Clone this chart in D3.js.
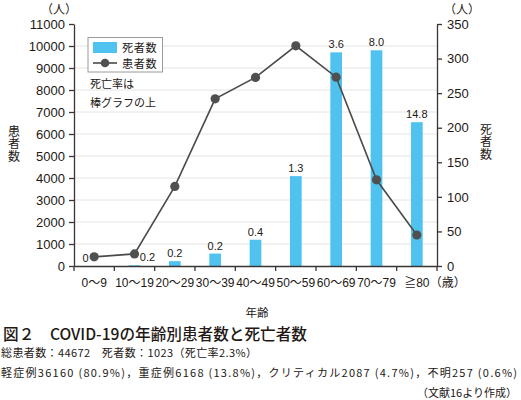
<!DOCTYPE html>
<html><head><meta charset="utf-8">
<script src="https://cdn.jsdelivr.net/npm/d3@7"></script>
<style>
html,body{margin:0;padding:0;background:#fff;}
svg{display:block;}
text{font-family:"Liberation Sans","Noto Sans CJK JP",sans-serif;fill:#231815;}
.jp{font-family:"Noto Sans CJK JP","Liberation Sans",sans-serif;}
</style></head>
<body>
<script>
const categories = ["0～9","10～19","20～29","30～39","40～49","50～59","60～69","70～79","≧80"];
const patients = [416,549,3619,7600,8571,10008,8583,3918,1408];
const deaths = [0,1,7,18,38,130,309,312,208];
const rates = ["0","0.2","0.2","0.2","0.4","1.3","3.6","8.0","14.8"];
const leftTicks = d3.range(0,11001,1000);
const rightTicks = d3.range(0,351,50);

const W=521,H=400;
const svg=d3.select("body").append("svg").attr("width",W).attr("height",H);
const L=74,R=437,T=24,B=266;
const axisCol="#3b3434";

const x=d3.scaleBand().domain(categories).range([L,R]).padding(0);
const yL=d3.scaleLinear().domain([0,11000]).range([B,T]);
const yR=d3.scaleLinear().domain([0,350]).range([B,T]);

// gridlines
svg.append("g").selectAll("line").data(leftTicks.filter(d=>d>0&&d<11000)).join("line")
  .attr("x1",L).attr("x2",R).attr("y1",d=>yL(d)).attr("y2",d=>yL(d))
  .attr("stroke","#e4e4e4").attr("stroke-width",1);

// bars
const bw=x.bandwidth()*0.29;
svg.append("g").selectAll("rect").data(deaths).join("rect")
  .attr("x",(d,i)=>x(categories[i])+x.bandwidth()/2-bw/2)
  .attr("y",d=>yR(d)).attr("width",bw).attr("height",d=>B-yR(d))
  .attr("fill","#4fc2f0");

// bar labels
const labelShift=[-8.5,13,0,0,0,0,0,0,0];
svg.append("g").selectAll("text").data(rates).join("text")
  .attr("x",(d,i)=>x(categories[i])+x.bandwidth()/2+labelShift[i])
  .attr("y",(d,i)=>Math.min(yR(deaths[i])-4,262))
  .attr("text-anchor","middle").attr("font-size",11).attr("fill","#333")
  .text(d=>d);

// line
const line=d3.line().x((d,i)=>x(categories[i])+x.bandwidth()/2).y(d=>yL(d));
svg.append("path").datum(patients).attr("d",line)
  .attr("fill","none").attr("stroke","#4a4a4a").attr("stroke-width",1.6);
svg.append("g").selectAll("circle").data(patients).join("circle")
  .attr("cx",(d,i)=>x(categories[i])+x.bandwidth()/2).attr("cy",d=>yL(d))
  .attr("r",4.6).attr("fill","#505050");

// axes
function styleAxis(g){
  g.selectAll("path,line").attr("stroke",axisCol).attr("stroke-width",1.3);
  g.selectAll("text").attr("font-size",13).attr("fill","#231815")
   .attr("font-family","'Liberation Sans',sans-serif");
}
svg.append("g").attr("transform",`translate(${L},0)`)
  .call(d3.axisLeft(yL).tickValues(leftTicks).tickSize(5).tickSizeOuter(0).tickPadding(4).tickFormat(d3.format("d")))
  .call(styleAxis);
svg.append("g").attr("transform",`translate(${R},0)`)
  .call(d3.axisRight(yR).tickValues(rightTicks).tickSize(5).tickSizeOuter(0).tickPadding(5).tickFormat(d3.format("d")))
  .call(styleAxis);

// x axis
const gx=svg.append("g").attr("transform",`translate(0,${B})`)
  .call(d3.axisBottom(x).tickSize(0).tickSizeOuter(0).tickPadding(12))
  .call(styleAxis);
gx.selectAll("text").attr("font-size",12).attr("font-family","'Liberation Sans','Noto Sans CJK JP',sans-serif");
const bounds=categories.map(c=>x(c)).concat([R]);
svg.append("g").selectAll("line").data(bounds).join("line")
  .attr("x1",d=>d).attr("x2",d=>d).attr("y1",B).attr("y2",B+5)
  .attr("stroke",axisCol).attr("stroke-width",1.3);

svg.append("text").attr("class","jp").attr("x",x(categories[8])+x.bandwidth()/2+13).attr("y",287)
  .attr("font-size",12).text("（歳）");
svg.append("text").attr("class","jp").attr("x",257).attr("y",317).attr("text-anchor","middle")
  .attr("font-size",11.5).text("年齢");

// unit labels
svg.append("text").attr("class","jp").attr("x",59).attr("y",14).attr("text-anchor","middle").attr("font-size",12).text("（人）");
svg.append("text").attr("class","jp").attr("x",462).attr("y",14).attr("text-anchor","middle").attr("font-size",12).text("（人）");

// vertical axis titles
function vtitle(str,cx,top){
  svg.append("text").attr("class","jp").attr("font-size",12)
    .attr("x",cx).attr("y",top)
    .style("writing-mode","vertical-rl").style("text-orientation","upright")
    .attr("letter-spacing",0.8)
    .text(str);
}
vtitle("患者数",14,125);
vtitle("死者数",486,123);

// legend
const lg=svg.append("g");
lg.append("rect").attr("x",88).attr("y",37.5).attr("width",74.5).attr("height",34.5)
  .attr("fill","#fff").attr("stroke","#9a9a9a").attr("stroke-width",1);
lg.append("rect").attr("x",93).attr("y",42).attr("width",24).attr("height",11).attr("fill","#4fc2f0");
lg.append("line").attr("x1",93).attr("x2",117).attr("y1",63).attr("y2",63).attr("stroke","#4a4a4a").attr("stroke-width",1.6);
lg.append("circle").attr("cx",105).attr("cy",63).attr("r",4.3).attr("fill","#505050");
lg.append("text").attr("class","jp").attr("x",122).attr("y",51.5).attr("font-size",11.2).attr("letter-spacing",0.6).text("死者数");
lg.append("text").attr("class","jp").attr("x",122).attr("y",67.5).attr("font-size",11.2).attr("letter-spacing",0.6).text("患者数");

svg.append("text").attr("class","jp").attr("x",90).attr("y",88).attr("font-size",11).text("死亡率は");
svg.append("text").attr("class","jp").attr("x",90).attr("y",107).attr("font-size",11).text("棒グラフの上");

// caption: fit font size to the reference width
function fitText(sel,target){
  const fs=+sel.attr("font-size");
  const w=sel.node().getComputedTextLength();
  if(w>0) sel.attr("font-size",(fs*target/w).toFixed(2));
}
const cap=svg.append("text").attr("class","jp").attr("x",3).attr("y",340).attr("font-size",15).attr("font-weight",500)
  .text("図２　COVID-19の年齢別患者数と死亡者数");
fitText(cap,304);
svg.append("text").attr("class","jp").attr("x",1).attr("y",356.5).attr("font-size",11)
  .attr("textLength",256).attr("lengthAdjust","spacing")
  .text("総患者数：44672　死者数：1023（死亡率2.3%）");
svg.append("text").attr("class","jp").attr("x",1).attr("y",376.5).attr("font-size",11)
  .attr("textLength",516).attr("lengthAdjust","spacing")
  .text("軽症例36160 (80.9%)，重症例6168 (13.8%)，クリティカル2087 (4.7%)，不明257 (0.6%)");
svg.append("text").attr("class","jp").attr("x",517).attr("y",396.5).attr("font-size",11).attr("text-anchor","end")
  .text("（文献16より作成）");
</script>
</body></html>
